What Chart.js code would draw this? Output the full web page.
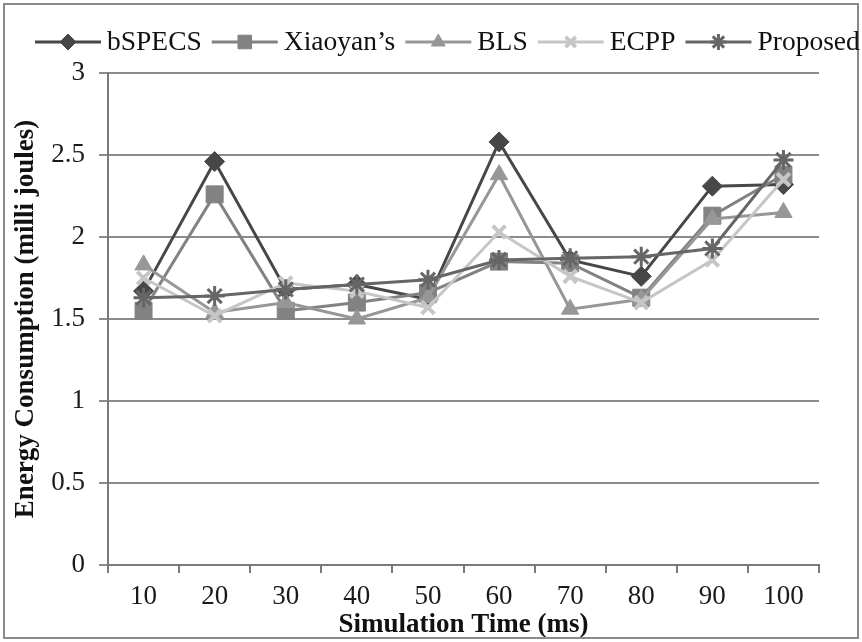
<!DOCTYPE html>
<html>
<head>
<meta charset="utf-8">
<script src="https://cdn.jsdelivr.net/npm/chart.js@4/dist/chart.umd.min.js"></script>
<style>
  html, body { margin: 0; padding: 0; background: #fff; }
  #wrap { position: relative; width: 862px; height: 642px; }
</style>
</head>
<body>
<div id="wrap"><canvas id="energyChart"></canvas></div>
<script>
const simTimes = ['10', '20', '30', '40', '50', '60', '70', '80', '90', '100'];
const yTicks = [0, 0.5, 1, 1.5, 2, 2.5, 3];

const bspecs   = [1.67, 2.46, 1.68, 1.71, 1.62, 2.58, 1.86, 1.76, 2.31, 2.32];
const xiaoyan  = [1.55, 2.26, 1.55, 1.60, 1.66, 1.85, 1.84, 1.63, 2.13, 2.38];
const bls      = [1.83, 1.54, 1.60, 1.50, 1.63, 2.38, 1.56, 1.62, 2.11, 2.15];
const ecpp     = [1.75, 1.52, 1.72, 1.67, 1.57, 2.03, 1.76, 1.60, 1.86, 2.35];
const proposed = [1.63, 1.64, 1.68, 1.71, 1.74, 1.86, 1.87, 1.88, 1.93, 2.47];

const seriesNames = ['bSPECS', 'Xiaoyan\u2019s', 'BLS', 'ECPP', 'Proposed'];

const serif = '"Liberation Serif", "Times New Roman", serif';

// one look per series: colour, marker shape and size
const looks = [
  { color: '#474747', style: 'rectRot',  radius: 10, bw: 1 },
  { color: '#828282', style: 'rect',     radius: 12, bw: 1 },
  { color: '#979797', style: 'triangle', radius: 10, bw: 1 },
  { color: '#c6c6c6', style: 'crossRot', radius: 9,  bw: 4 },
  { color: '#666666', style: 'star',     radius: 10, bw: 3 }
];

const allSeries = [bspecs, xiaoyan, bls, ecpp, proposed];

const datasets = allSeries.map((vals, i) => ({
  label: seriesNames[i],
  data: vals,
  borderColor: looks[i].color,
  backgroundColor: looks[i].color,
  borderWidth: 3,
  pointStyle: looks[i].style,
  pointRadius: looks[i].radius,
  pointBorderWidth: looks[i].bw,
  pointBackgroundColor: looks[i].color,
  pointBorderColor: looks[i].color,
  tension: 0,
  order: allSeries.length - i
}));

// frame round the whole figure + legend row with line-and-marker keys
const frameAndLegend = {
  id: 'frameAndLegend',
  afterDraw(chart) {
    const ctx = chart.ctx;
    ctx.save();
    ctx.strokeStyle = '#8a8a8a';
    ctx.lineWidth = 2;
    ctx.strokeRect(4, 4, 854, 634);

    ctx.font = '27.5px ' + serif;
    ctx.textBaseline = 'middle';
    let x = 35;
    const y = 42;
    seriesNames.forEach((name, i) => {
      const lk = looks[i];
      ctx.strokeStyle = lk.color;
      ctx.fillStyle = lk.color;
      ctx.lineWidth = 3;
      ctx.beginPath();
      ctx.moveTo(x, y);
      ctx.lineTo(x + 66, y);
      ctx.stroke();
      ctx.lineWidth = lk.bw;
      Chart.helpers.drawPoint(ctx, {
        pointStyle: lk.style,
        radius: lk.radius * 0.8,
        rotation: 0,
        borderWidth: lk.bw
      }, x + 33, y);
      ctx.fillStyle = '#111';
      ctx.fillText(name, x + 72, y + 1);
      x += 72 + ctx.measureText(name).width + 10;
    });
    ctx.restore();
  }
};

new Chart(document.getElementById('energyChart'), {
  type: 'line',
  data: { labels: simTimes, datasets: datasets },
  options: {
    responsive: true,
    maintainAspectRatio: false,
    animation: false,
    layout: { padding: { left: 8, right: 43, top: 73, bottom: 1 } },
    plugins: {
      legend: { display: false },
      tooltip: { enabled: false }
    },
    scales: {
      x: {
        offset: true,
        afterFit: s => { s.height = 76; },
        grid: {
          display: true,
          offset: true,
          drawOnChartArea: false,
          drawTicks: true,
          tickLength: 8,
          color: '#7a7a7a',
          lineWidth: 2
        },
        border: { display: true, color: '#7a7a7a', width: 2 },
        ticks: { color: '#1a1a1a', font: { family: serif, size: 27 }, padding: 8, maxRotation: 0 },
        title: {
          display: true,
          text: 'Simulation Time (ms)',
          color: '#111',
          font: { family: serif, size: 27, weight: 'bold' },
          padding: { top: 0, bottom: 0 }
        }
      },
      y: {
        min: 0,
        max: 3,
        afterFit: s => { s.width = 100; },
        afterBuildTicks: s => { s.ticks = yTicks.map(v => ({ value: v })); },
        grid: {
          color: '#8c8c8c',
          lineWidth: 2,
          drawTicks: true,
          tickLength: 9
        },
        border: { display: true, color: '#7a7a7a', width: 2 },
        ticks: {
          color: '#1a1a1a',
          font: { family: serif, size: 27 },
          padding: 14,
          callback: v => String(v)
        },
        title: {
          display: true,
          text: 'Energy Consumption (milli joules)',
          color: '#111',
          font: { family: serif, size: 27, weight: 'bold' },
          padding: { top: 2, bottom: 0 }
        }
      }
    }
  },
  plugins: [frameAndLegend]
});
</script>
</body>
</html>
